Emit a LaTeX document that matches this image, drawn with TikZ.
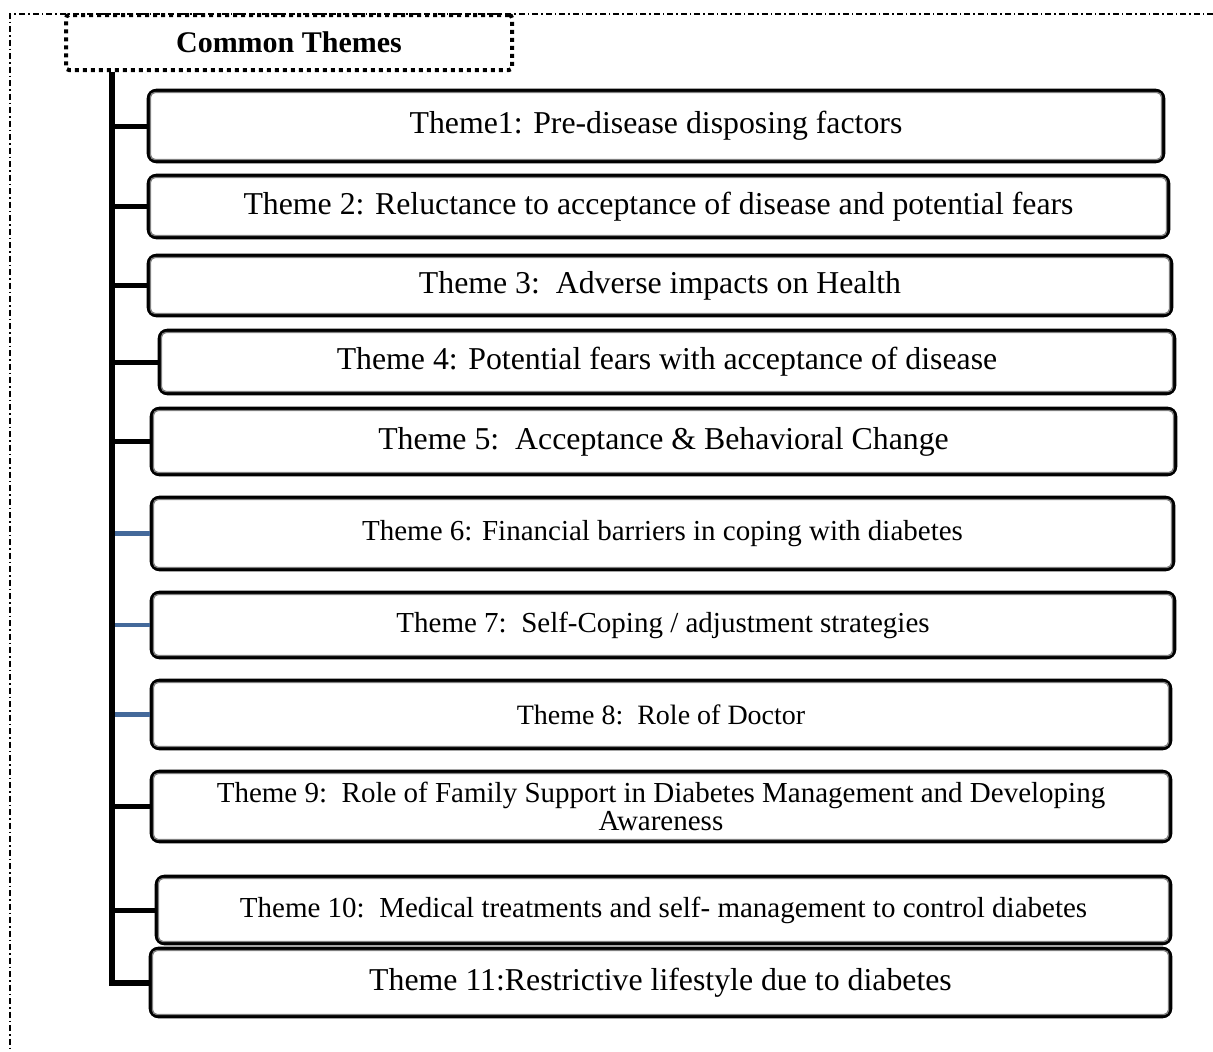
\documentclass[tikz,border=0pt]{standalone}
\usepackage{fontspec}
\setmainfont{Liberation Serif}
\definecolor{linkblue}{RGB}{68,105,154}
\begin{document}
\begin{tikzpicture}[x=1pt,y=-1pt,
  theme/.style={draw=black, line width=3.6pt, rounded corners=8pt, fill=white, inner sep=0pt, align=center},
  bigtxt/.style={font=\fontsize{31.8}{35}\selectfont},
  smalltxt/.style={font=\fontsize{29}{28.5}\selectfont},
  branch/.style={line width=5pt, draw=black},
  bluebranch/.style={line width=4.5pt, draw=linkblue},
  innerline/.style={draw=black!50, line width=1.4pt, rounded corners=4.5pt},
  frame/.style={line width=1.5pt, dash pattern=on 6pt off 3pt on 1.5pt off 3pt},
  titlebox/.style={draw=black, line width=4pt, dash pattern=on 4pt off 4pt, rounded corners=3pt, fill=white, inner sep=0pt, font=\bfseries\fontsize{30}{34}\selectfont}
]
\useasboundingbox (0,0) rectangle (1213,1052);
\fill[white] (0,0) rectangle (1213,1052);
% outer dash-dot frame
\coordinate (fr) at (1213,14);
\coordinate (fc) at (10,14);
\coordinate (fb) at (10,1052);
\draw[frame] (fr) -- (fc) -- (fb);
% theme boxes
\node[theme, bigtxt, minimum width=1015pt, minimum height=71pt] (t1) at (656,126) {Theme1: Pre-disease disposing factors};
\node[theme, bigtxt, minimum width=1020pt, minimum height=62pt] (t2) at (658.5,206.5) {Theme 2: Reluctance to acceptance of disease and potential fears};
\node[theme, bigtxt, minimum width=1023pt, minimum height=60pt] (t3) at (660,285.5) {Theme 3:\ \ Adverse impacts on Health};
\node[theme, bigtxt, minimum width=1015pt, minimum height=63pt] (t4) at (667,362) {Theme 4: Potential fears with acceptance of disease};
\node[theme, bigtxt, minimum width=1024pt, minimum height=66pt] (t5) at (663.5,441.5) {Theme 5:\ \ Acceptance \& Behavioral Change};
\node[theme, smalltxt, minimum width=1022pt, minimum height=72pt] (t6) at (662.5,533.5) {Theme 6: Financial barriers in coping with diabetes};
\node[theme, smalltxt, minimum width=1023pt, minimum height=65pt] (t7) at (663,625) {Theme 7:\ \ Self-Coping / adjustment strategies};
\node[theme, smalltxt, minimum width=1019pt, minimum height=68pt, font=\fontsize{28}{30}\selectfont] (t8) at (661,714.5) {Theme 8:\ \ Role of Doctor};
\node[theme, smalltxt, minimum width=1019pt, minimum height=70pt] (t9) at (661,806.5) {Theme 9:\ \ Role of Family Support in Diabetes Management and Developing\\Awareness};
\node[theme, smalltxt, minimum width=1014pt, minimum height=67pt] (t10) at (663.5,910) {Theme 10:\ \ Medical treatments and self- management to control diabetes};
\node[theme, bigtxt, minimum width=1020pt, minimum height=68pt] (t11) at (660.5,982.5) {Theme 11:Restrictive lifestyle due to diabetes};
\foreach \i in {1,...,11}{
  \draw[innerline] ([shift={(3.8pt,-3.8pt)}]t\i.north west) rectangle ([shift={(-3.8pt,3.8pt)}]t\i.south east);
}
% title box
\node[titlebox, minimum width=446pt, minimum height=55pt] (ct) at (289,42.5) {Common Themes};
% bus and branches
\coordinate (bus) at (112,0);
\foreach \i in {1,2,3,4,5,9,10}{
  \draw[branch] (t\i.west -| bus) -- (t\i.west);
}
\foreach \i in {6,7,8}{
  \draw[bluebranch] (t\i.west -| bus) -- (t\i.west);
}
\draw[line width=6pt, line join=miter] (ct.south -| bus) -- (t11.west -| bus) -- (t11.west);
\end{tikzpicture}
\end{document}
